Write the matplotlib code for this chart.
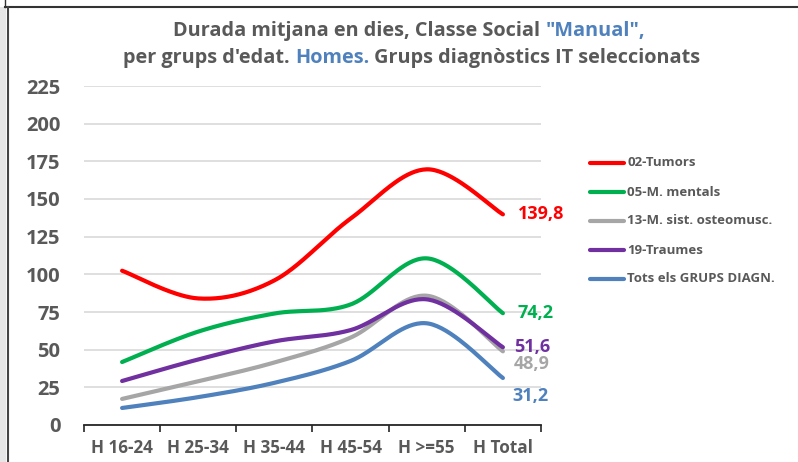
import numpy as np
import matplotlib
matplotlib.use("Agg")
import matplotlib.pyplot as plt
from matplotlib.lines import Line2D
from matplotlib.patches import Rectangle

plt.rcParams['font.family'] = ['Open Sans', 'DejaVu Sans']
plt.rcParams['font.weight'] = 'bold'

categories = ["H 16-24", "H 25-34", "H 35-44", "H 45-54", "H >=55", "H Total"]
tumors = [102.4, 84.0, 96.0, 137.0, 169.7, 139.8]
mentals = [41.8, 62.0, 74.0, 80.0, 110.6, 74.2]
osteo = [17.3, 29.0, 41.5, 58.0, 85.8, 48.9]
traumes = [29.2, 43.5, 55.5, 63.0, 83.4, 51.6]
tots = [11.3, 18.5, 28.0, 42.5, 67.5, 31.2]

series_names = ["02-Tumors", "05-M. mentals", "13-M. sist. osteomusc.",
                "19-Traumes", "Tots els GRUPS DIAGN."]
series = [tumors, mentals, osteo, traumes, tots]
colors = ["#FF0000", "#00B050", "#A6A6A6", "#7030A0", "#4F81BD"]
# pixel offsets for the end labels (dx, dy)
label_offsets = [(15, 0), (15, 0), (11, -13), (11, 0), (9, -18)]

GRAY = "#595959"
BLUE = "#4F81BD"


def smooth(y, n=40):
    # excel-like smoothed line (catmull-rom bezier)
    x = np.arange(len(y), dtype=float)
    y = np.asarray(y, dtype=float)
    px = np.concatenate([[x[0]], x, [x[-1]]])
    py = np.concatenate([[y[0]], y, [y[-1]]])
    xs, ys = [], []
    t = np.linspace(0, 1, n)
    for i in range(len(y) - 1):
        p0 = np.array([px[i + 1], py[i + 1]])
        p3 = np.array([px[i + 2], py[i + 2]])
        c1 = p0 + (np.array([px[i + 2], py[i + 2]]) - np.array([px[i], py[i]])) / 6
        c2 = p3 - (np.array([px[i + 3], py[i + 3]]) - np.array([px[i + 1], py[i + 1]])) / 6
        b = ((1 - t) ** 3)[:, None] * p0 + (3 * (1 - t) ** 2 * t)[:, None] * c1 \
            + (3 * (1 - t) * t ** 2)[:, None] * c2 + (t ** 3)[:, None] * p3
        xs.append(b[:, 0])
        ys.append(b[:, 1])
    return np.concatenate(xs), np.concatenate(ys)


fig = plt.figure(figsize=(7.98, 4.62), dpi=100)
W, H = 798, 462

# frame bits
fig.patches.append(Rectangle((0, 0), 6 / W, 1 - 7 / H, transform=fig.transFigure,
                             facecolor="#E6E6E6", edgecolor="none", zorder=0))
fig.add_artist(Line2D([5 / W, 1], [1 - 6.5 / H] * 2, transform=fig.transFigure,
                      color="#333333", lw=1.5))
fig.add_artist(Line2D([5 / W, 5 / W], [1 - 6.5 / H, 1], transform=fig.transFigure,
                      color="#333333", lw=1.0))
fig.add_artist(Line2D([7.5 / W, 7.5 / W], [0, 1 - 6.5 / H], transform=fig.transFigure,
                      color="#444444", lw=1.5))

ax = fig.add_axes([84 / W, 1 - 425 / H, (541 - 84) / W, (425 - 86) / H])
ax.set_xlim(-0.5, 5.5)
ax.set_ylim(0, 225)
ax.set_yticks(np.arange(0, 226, 25))
ax.yaxis.grid(True, color="#D9D9D9", lw=1.2)
ax.set_axisbelow(True)
for s in ["top", "right", "left"]:
    ax.spines[s].set_visible(False)
ax.spines["bottom"].set_color("#262626")
ax.spines["bottom"].set_linewidth(1.3)
ax.tick_params(axis="y", length=0, pad=17, labelsize=14.5, labelcolor=GRAY)

ax.set_xticks(np.arange(-0.5, 6, 1))
ax.set_xticklabels([])
ax.tick_params(axis="x", which="major", length=5, width=1.2, color="#262626", direction="out")
ax.set_xticks(np.arange(len(categories)), minor=True)
ax.set_xticklabels(categories, minor=True)
ax.tick_params(axis="x", which="minor", length=0, pad=10, labelsize=12.3, labelcolor=GRAY)

for vals, name, col, (dx, dy) in zip(series, series_names, colors, label_offsets):
    sx, sy = smooth(vals)
    ax.plot(sx, sy, color=col, lw=3, solid_capstyle="round", label=name, clip_on=False)
    ax.annotate(f"{vals[-1]:.1f}".replace(".", ","), (len(vals) - 1, vals[-1]),
                xytext=(dx * 0.72, dy * 0.72), textcoords="offset points",
                ha="left", va="center", color=col, fontsize=13, fontweight="bold")

# legend
legend_y = [163, 192, 221, 250, 279]
for name, col, ly in zip(series_names, colors, legend_y):
    fig.add_artist(Line2D([590 / W, 624 / W], [1 - ly / H] * 2, transform=fig.transFigure,
                          color=col, lw=3, solid_capstyle="round"))
    fig.text(627 / W, 1 - ly / H, name, ha="left", va="center", color=GRAY,
             fontsize=9.5, fontweight="bold")

# title, two colours
renderer = fig.canvas.get_renderer()


def colored_line(parts, cx, y, size):
    texts = []
    for txt, col in parts:
        texts.append(fig.text(0, y, txt, color=col, fontsize=size, fontweight="bold",
                              ha="left", va="center"))
    widths = [t.get_window_extent(renderer).width for t in texts]
    x = cx * W - sum(widths) / 2
    for t, w in zip(texts, widths):
        t.set_x(x / W)
        x += w


colored_line([("Durada mitjana en dies, Classe Social ", GRAY), ('"Manual",', BLUE)],
             409 / W, 1 - 31 / H, 14.3)
colored_line([("per grups d'edat. ", GRAY), ("Homes.", BLUE),
              (" Grups diagnòstics IT seleccionats", GRAY)],
             412 / W, 1 - 58 / H, 14.3)

fig.savefig("out.png", dpi=100)
